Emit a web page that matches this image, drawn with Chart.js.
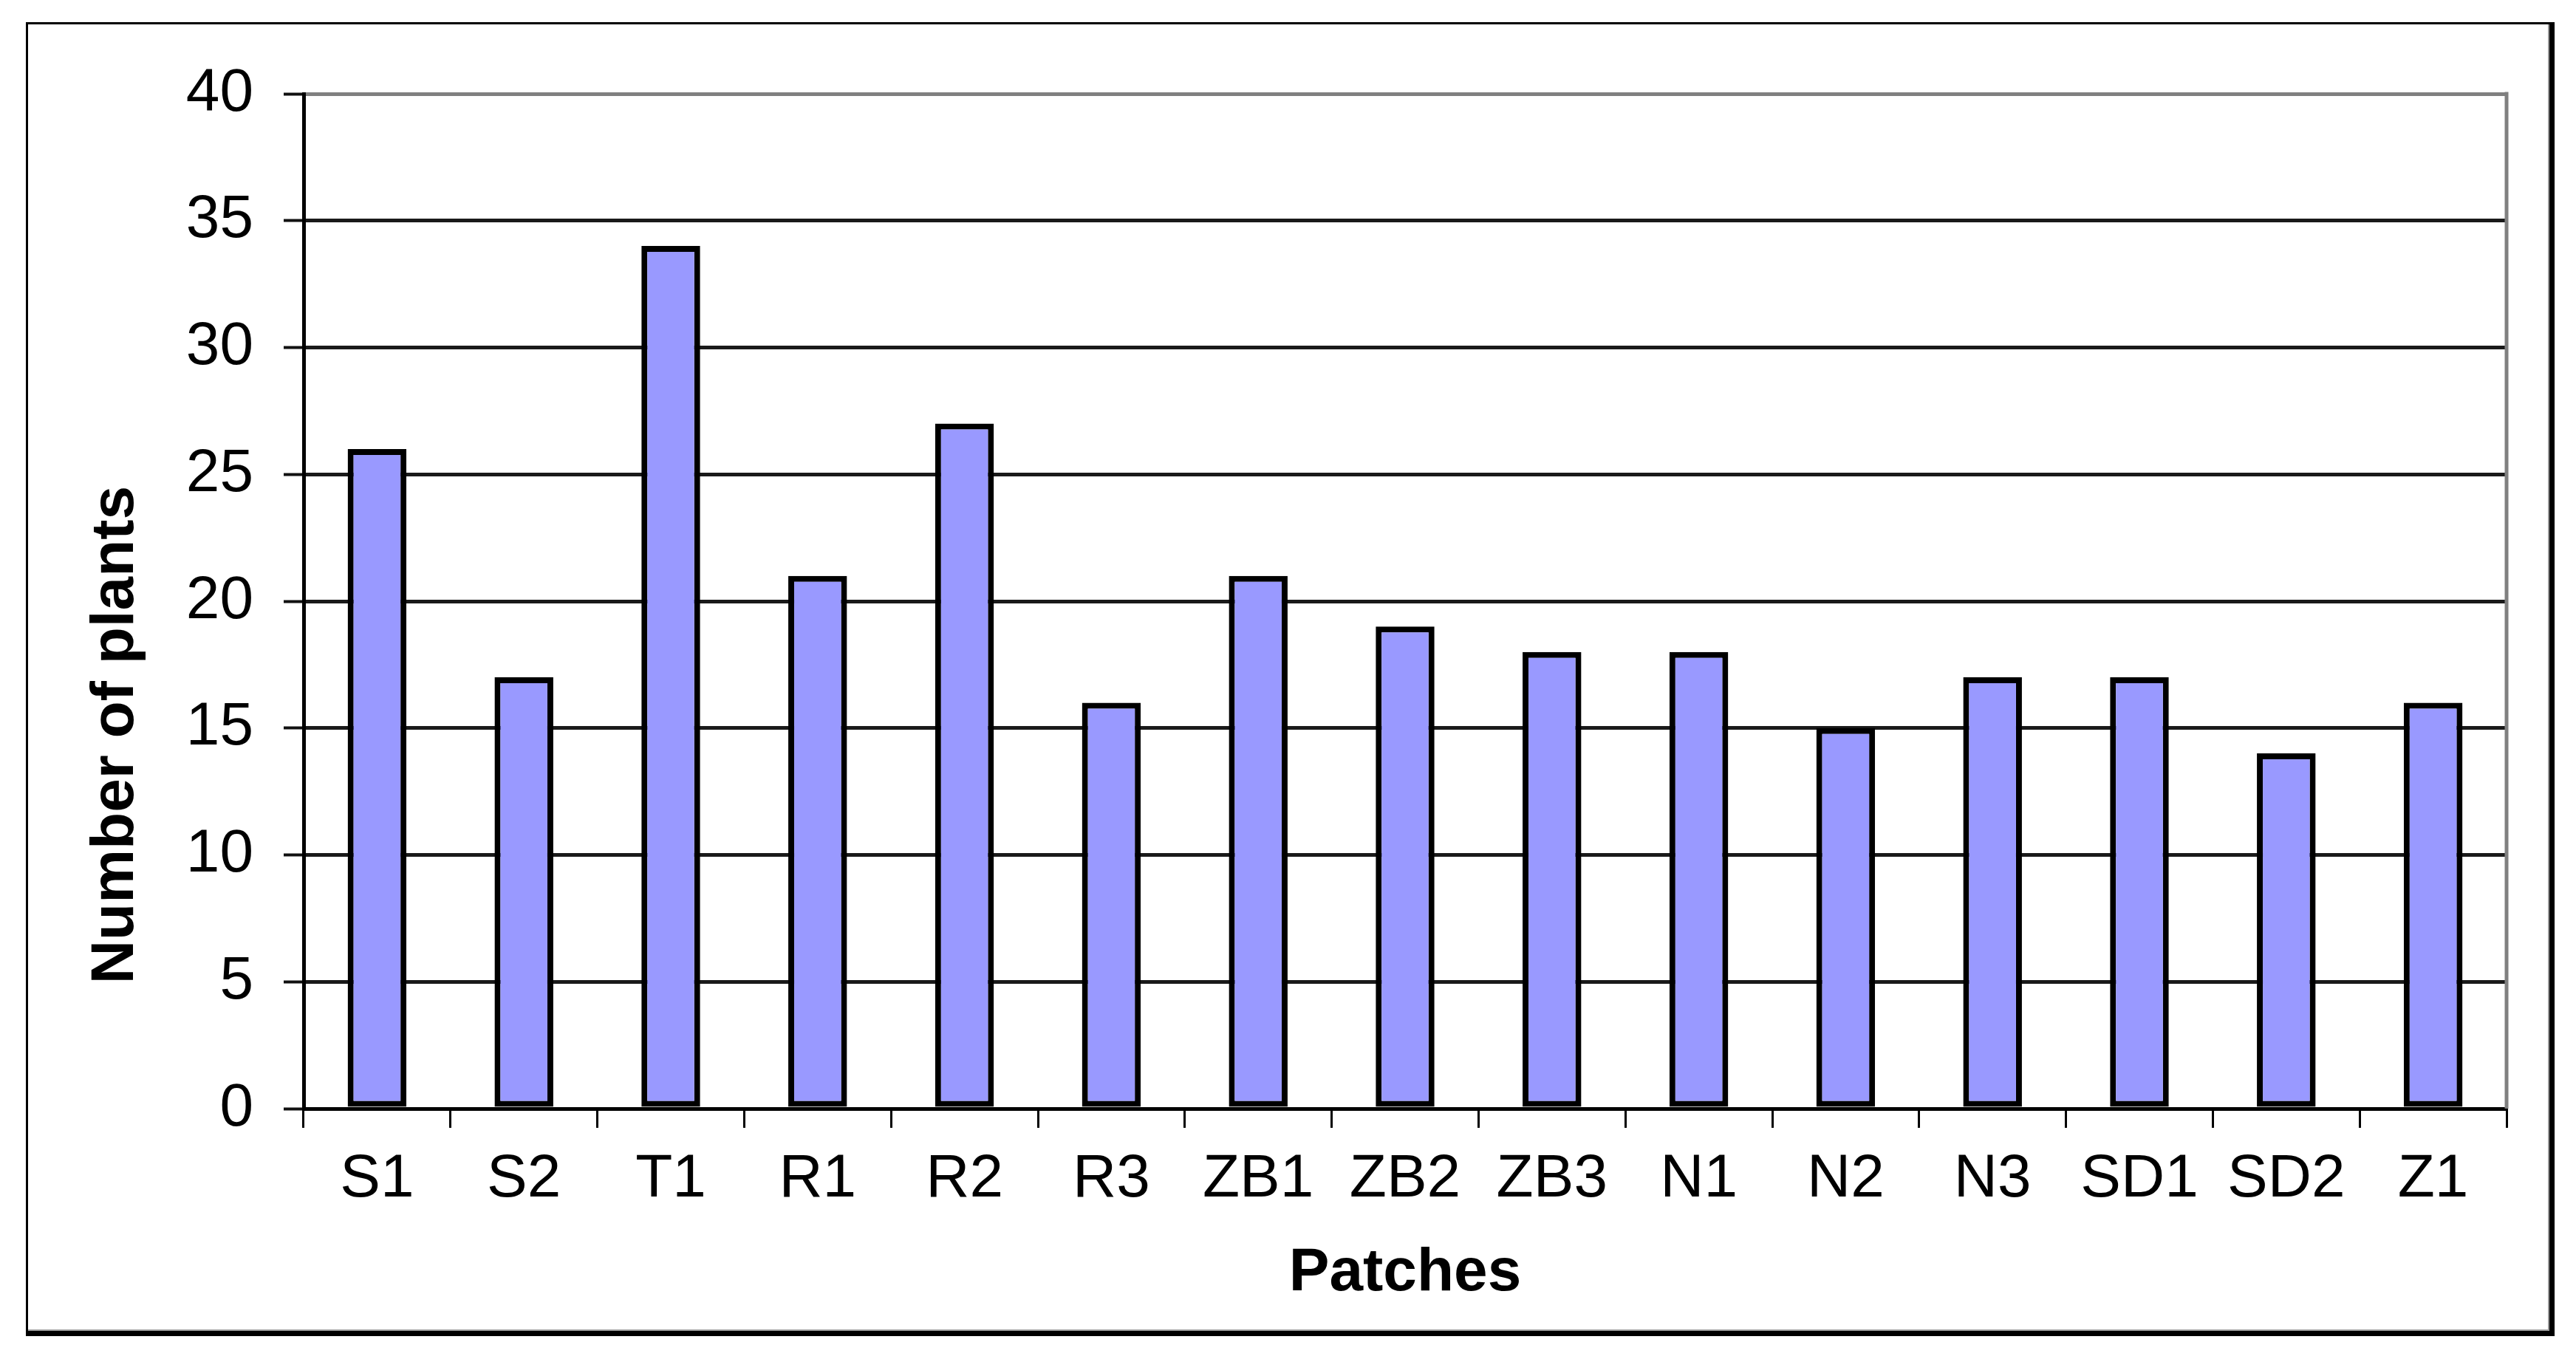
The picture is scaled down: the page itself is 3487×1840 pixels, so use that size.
<!DOCTYPE html>
<html>
<head>
<meta charset="utf-8">
<style>
  html, body { margin: 0; padding: 0; background: #ffffff; }
  #wrap { position: absolute; left: 0; top: 0; width: 3487px; height: 1840px; }
</style>
<script src="https://cdn.jsdelivr.net/npm/chart.js@4.4.1/dist/chart.umd.min.js"></script>
</head>
<body>
<div id="wrap"><canvas id="c" width="3487" height="1840"></canvas></div>
<script>
// ---- data ----
const categories = ["S1", "S2", "T1", "R1", "R2", "R3", "ZB1", "ZB2", "ZB3", "N1", "N2", "N3", "SD1", "SD2", "Z1"];
const plantCounts = [26, 17, 34, 21, 27, 16, 21, 19, 18, 18, 15, 17, 17, 14, 16];
const yTickMin = 0;
const yTickMax = 40;
const yTickStep = 5;
const xTitle = "Patches";
const yTitle = "Number of plants";

const FONT = "'Liberation Sans', Arial, Helvetica, sans-serif";

// outer frame of the picture (thin top/left, heavy right/bottom)
const framePlugin = {
  id: 'frame',
  afterDraw(chart) {
    const ctx = chart.ctx;
    ctx.save();
    ctx.fillStyle = '#000';
    ctx.fillRect(35, 30, 3, 1779);      // left
    ctx.fillRect(35, 30, 3423, 3);      // top
    ctx.fillRect(3451, 30, 7, 1779);    // right
    ctx.fillRect(35, 1802, 3423, 7);    // bottom
    ctx.fillStyle = '#9a9a9a';
    ctx.fillRect(3449, 33, 2, 1769);
    ctx.fillRect(38, 1800, 3411, 2);
    ctx.restore();
  }
};

// grey plot-area border on the right side
const plotBorderPlugin = {
  id: 'plotBorder',
  beforeDatasetsDraw(chart) {
    const a = chart.chartArea;
    const ctx = chart.ctx;
    ctx.save();
    ctx.strokeStyle = '#808080';
    ctx.lineWidth = 5;
    ctx.beginPath();
    ctx.moveTo(a.right, a.top - 2.5);
    ctx.lineTo(a.right, a.bottom);
    ctx.stroke();
    ctx.restore();
  }
};

// y-axis title, placed as in the original (lower than the axis middle)
const yTitlePlugin = {
  id: 'yTitleText',
  afterDraw(chart, args, opts) {
    const ctx = chart.ctx;
    ctx.save();
    ctx.translate(opts.x, opts.y);
    ctx.rotate(-Math.PI / 2);
    ctx.font = "bold 82px " + FONT;
    ctx.fillStyle = '#000';
    ctx.textAlign = 'center';
    ctx.textBaseline = 'middle';
    ctx.fillText(opts.text, 0, 0);
    ctx.restore();
  }
};

new Chart(document.getElementById('c'), {
  type: 'bar',
  data: {
    labels: categories,
    datasets: [{
      label: yTitle,
      data: plantCounts,
      backgroundColor: '#9999ff',
      borderColor: '#000000',
      borderWidth: 8,
      borderSkipped: false,
      barPercentage: 0.4,
      categoryPercentage: 1.0
    }]
  },
  options: {
    responsive: false,
    animation: false,
    devicePixelRatio: 1,
    layout: { padding: { left: 0, top: 127, right: 94, bottom: 0 } },
    plugins: {
      legend: { display: false },
      tooltip: { enabled: false },
      title: { display: false },
      yTitleText: { text: yTitle, x: 157, y: 995 }
    },
    scales: {
      x: {
        offset: true,
        grid: {
          drawOnChartArea: false,
          drawTicks: true,
          tickLength: 26,
          color: '#000',
          lineWidth: 3,
          offset: true
        },
        border: { display: true, color: '#000', width: 5 },
        ticks: {
          color: '#000',
          font: { family: FONT, size: 82 },
          padding: 21,
          maxRotation: 0,
          autoSkip: false
        },
        title: {
          display: true,
          text: xTitle,
          color: '#000',
          font: { family: FONT, size: 82, weight: 'bold' },
          padding: { top: 0, bottom: 66 }
        },
        afterFit(scale) { scale.height = 339; }
      },
      y: {
        min: yTickMin,
        max: yTickMax,
        ticks: {
          stepSize: yTickStep,
          color: '#000',
          font: { family: FONT, size: 82 },
          padding: 41
        },
        grid: {
          drawTicks: true,
          tickLength: 27,
          color: (c) => (c.tick && c.tick.value === yTickMax) ? '#808080' : '#1a1a1a',
          lineWidth: (c) => (c.tick && c.tick.value === yTickMax) ? 5 : 5,
          tickColor: '#111111',
          tickWidth: 4
        },
        border: { display: true, color: '#000', width: 5 },
        title: { display: false },
        afterFit(scale) { scale.width = 411; }
      }
    }
  },
  plugins: [plotBorderPlugin, framePlugin, yTitlePlugin]
});
</script>
</body>
</html>
